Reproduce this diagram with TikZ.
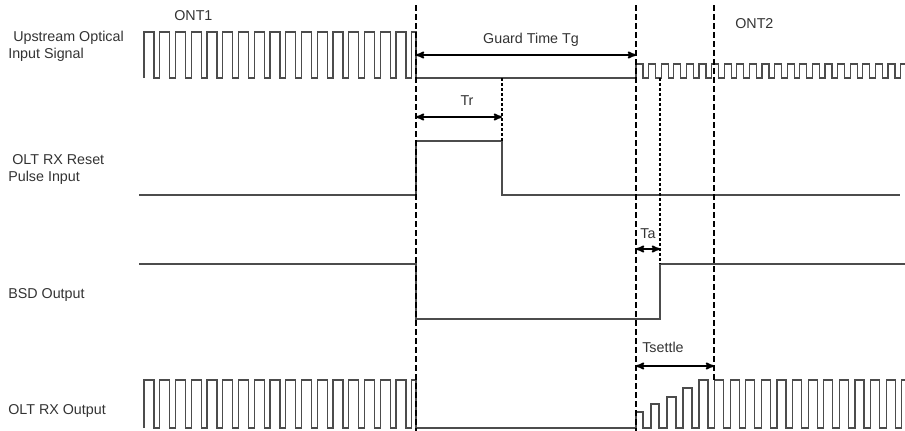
\documentclass[tikz,border=0pt]{standalone}
\usepackage{fontspec}
\setmainfont{Liberation Sans}
\usepackage{tikz}
\usetikzlibrary{arrows}
\usetikzlibrary{positioning}

\begin{document}
\begin{tikzpicture}[x=1pt,y=-1pt,>=stealth',semithick,font=\fontsize{14.3}{17}\selectfont]
	\tikzstyle{sig}=[draw=black!70, line width=1.1pt]
	\tikzstyle{lbl}=[inner sep=0pt, text=black!80]
	\tikzstyle{guide}=[draw, line width=1.5pt, dash pattern=on 6pt off 3pt]
	\tikzstyle{dotline}=[draw, line width=1.5pt, dash pattern=on 3pt off 2pt]
	\tikzstyle{span}=[<->, line width=1.8pt]
	\useasboundingbox (0,0) rectangle (905,431);

	% signal names
	\node[lbl, anchor=base west, align=left] (upin)   at (8,58)   {\hspace*{5pt}Upstream Optical\\Input Signal};
	\node[lbl, anchor=base west, align=left] (reset)  at (8,181)  {\hspace*{4pt}OLT RX Reset\\Pulse Input};
	\node[lbl, anchor=base west]             (bsd)    at (8,298)  {BSD Output};
	\node[lbl, anchor=base west]             (rxout)  at (8,414)  {OLT RX Output};
	\node[lbl, anchor=base west]             (ont1)   at (174,20) {ONT1};
	\node[lbl, anchor=base west]             (ont2)   at (735,28) {ONT2};

	% waveforms
	\draw[sig] (144,78) foreach \i in {1,...,17} { -- ++(0,-46) -- ++(10,0) -- ++(0,46) -- ++(5.75,0) }
		-- ++(0,-46) -- (416,32) -- (416,78) -- (636,78)
		foreach \i in {1,...,21} { -- ++(0,-14) -- ++(7,0) -- ++(0,14) -- ++(5.6,0) } -- ++(0,-14) -- ++(4,0);
	\draw[sig] (139,195) -- (416,195) -- (416,141) -- (502,141) -- (502,195) -- (900,195);
	\draw[sig] (139,264) -- (416,264) -- (416,319) -- (660,319) -- (660,264) -- (905,264);
	\draw[sig] (144,428) foreach \i in {1,...,17} { -- ++(0,-48) -- ++(10,0) -- ++(0,48) -- ++(5.75,0) }
		-- ++(0,-48) -- (416,380) -- (416,428) -- (636,428)
		-- (636,412) -- (643,412) -- (643,428) -- (651,428) -- (651,404) -- (659,404) -- (659,428)
		-- (667,428) -- (667,397) -- (676,397) -- (676,428) -- (683,428) -- (683,388) -- (692,388) -- (692,428) -- (699,428)
		foreach \i in {1,...,13} { -- ++(0,-48) -- ++(9,0) -- ++(0,48) -- ++(6.6,0) } -- ++(0,-48) -- ++(3,0);

	% timing marks
	\coordinate (a1) at (416,5);  \coordinate (a2) at (416,431);
	\coordinate (b1) at (636,5);  \coordinate (b2) at (636,431);
	\coordinate (c1) at (714,5);  \coordinate (c2) at (714,380);
	\coordinate (r1) at (502,78); \coordinate (r2) at (502,141);
	\coordinate (s1) at (660,78); \coordinate (s2) at (660,264);
	\path[guide] (a1) edge (a2)
		(b1) edge (b2)
		(c1) edge (c2);
	\path[dotline] (r1) edge (r2)
		(s1) edge (s2);

	% intervals
	\coordinate (tg1) at (416,55);  \coordinate (tg2) at (636,55);
	\coordinate (tr1) at (416,117); \coordinate (tr2) at (502,117);
	\coordinate (ta1) at (636,249); \coordinate (ta2) at (660,249);
	\coordinate (ts1) at (636,366); \coordinate (ts2) at (714,366);
	\path[span] (tg1) edge (tg2)
		(tr1) edge (tr2)
		(ta1) edge (ta2)
		(ts1) edge (ts2);
	\node[lbl, anchor=base]      (tg) at (531,43)  {Guard Time Tg};
	\node[lbl, anchor=base]      (tr) at (467,105) {Tr};
	\node[lbl, anchor=base]      (ta) at (648,238) {Ta};
	\node[lbl, anchor=base west] (ts) at (642,352) {Tsettle};
\end{tikzpicture}
\end{document}
